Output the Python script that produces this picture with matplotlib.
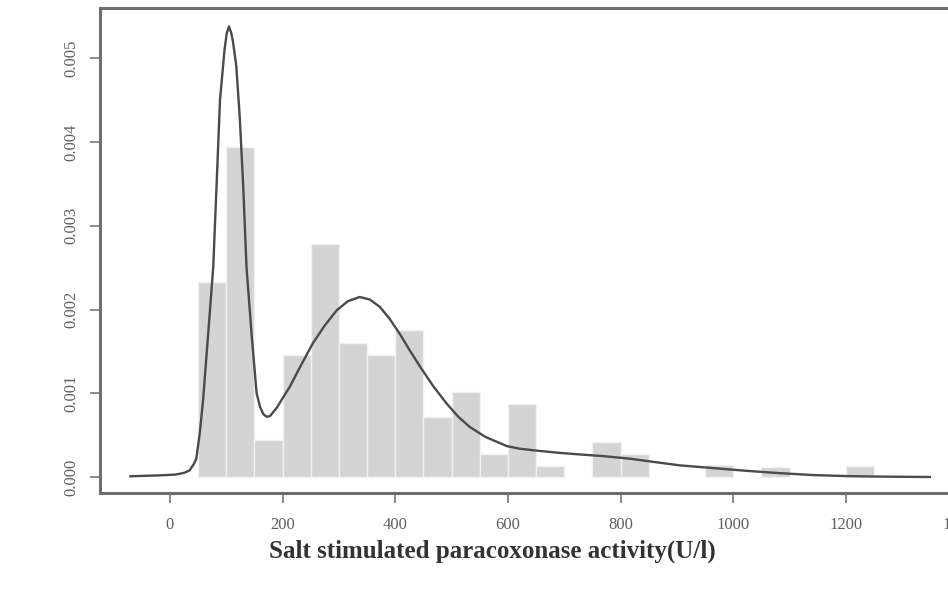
import matplotlib
matplotlib.use("Agg")
import matplotlib.pyplot as plt

# Histogram bins (left edges, width 50) and densities
bin_left = [50, 100, 150, 200, 250, 300, 350, 400, 450, 500, 550, 600, 650, 750, 800, 950, 1050, 1200]
bin_density = [0.00233, 0.00394, 0.00044, 0.00146, 0.00278, 0.00160, 0.00146, 0.00175,
               0.00072, 0.00102, 0.00028, 0.00087, 0.00013, 0.00042, 0.00028, 0.00014,
               0.00012, 0.00013]
bin_width = 50

# Density curve
curve_x = [-70, -20, 10, 25, 35, 42, 47, 53, 59, 68, 77, 83, 89, 93, 97, 101, 105, 109, 112,
           118, 124, 130, 136, 145, 154, 160, 166, 172, 178, 190, 200, 213, 230, 254, 275,
           296, 316, 337, 355, 373, 390, 408, 426, 444, 467, 491, 512, 532, 560, 598, 620,
           645, 690, 728, 770, 816, 860, 905, 960, 1023, 1080, 1142, 1200, 1260, 1349]
curve_y = [0.00001, 0.00002, 0.00003, 0.00005, 0.00008, 0.00015, 0.00022, 0.00052, 0.00092,
           0.00171, 0.00251, 0.0035, 0.0045, 0.0048, 0.0051, 0.0053, 0.00538, 0.0053,
           0.0052, 0.0049, 0.0043, 0.0035, 0.00251, 0.00171, 0.0010, 0.00084, 0.00075,
           0.00072, 0.00073, 0.00083, 0.00094, 0.00108, 0.0013, 0.00160, 0.00181, 0.00199,
           0.00210, 0.00215, 0.00212, 0.00203, 0.00189, 0.00171, 0.00151, 0.00132, 0.00109,
           0.00088, 0.00072, 0.00060, 0.00048, 0.00037, 0.00034, 0.00032, 0.00029, 0.00027,
           0.00025, 0.00022, 0.00018, 0.00014, 0.00011, 0.000075, 0.000048, 0.000024,
           0.000012, 0.000006, 0.000001]

x_ticks = [0, 200, 400, 600, 800, 1000, 1200, 1400]
y_ticks = [0.000, 0.001, 0.002, 0.003, 0.004, 0.005]
xlabel = "Salt stimulated paracoxonase activity(U/l)"

fig = plt.figure(figsize=(9.48, 6.07), dpi=100)
ax = fig.add_axes([100/948, 114/607, 862/948, 485/607])

ax.bar(bin_left, bin_density, width=bin_width, align="edge",
       color="#d4d4d4", edgecolor="#f2f2f2", linewidth=1.0, zorder=1)
ax.plot(curve_x, curve_y, color="#4a4a4a", linewidth=1.7, zorder=2)

ax.set_xlim(-124, 1406)
ax.set_ylim(-0.00019, 0.0056)

ax.set_xticks(x_ticks)
ax.set_xticklabels([str(v) for v in x_ticks], family="Liberation Serif", fontsize=12,
                   color="#606060")
ax.set_yticks(y_ticks)
ax.set_yticklabels([f"{v:.3f}" for v in y_ticks], family="Liberation Serif", fontsize=12,
                   color="#606060", rotation=90, va="center")
ax.tick_params(axis="both", direction="out", length=7, width=1.2, color="#777777")
ax.tick_params(axis="x", pad=10)
ax.tick_params(axis="y", pad=8)

for s in ax.spines.values():
    s.set_color("#6e6e6e")
    s.set_linewidth(2.2)

ax.set_xlabel(xlabel, family="Liberation Serif", fontsize=18, fontweight="bold",
              color="#333333", va="center")
ax.xaxis.set_label_coords((492-100)/862, (493-551)/485)

fig.savefig("out.png", dpi=100)
